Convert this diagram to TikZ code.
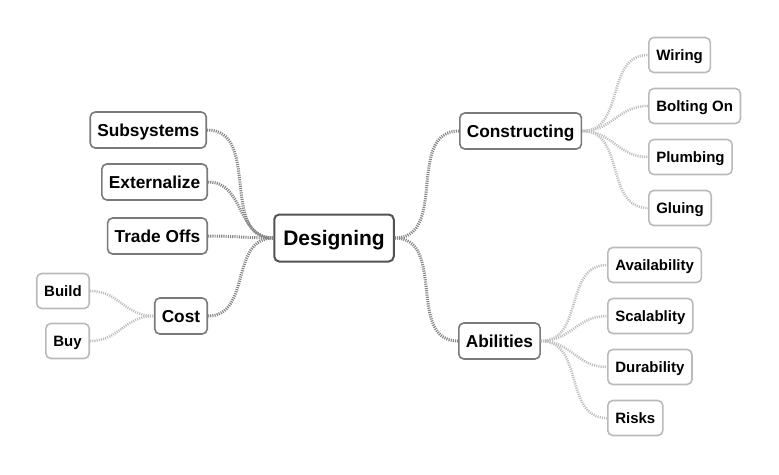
\documentclass[tikz,border=0pt]{standalone}
\usepackage{fontspec}
\setmainfont{Liberation Sans}
\begin{document}
\begin{tikzpicture}[x=1pt,y=-1pt,
  box/.style={draw, fill=white, rounded corners=5pt, inner xsep=7pt, inner ysep=0pt, text depth=0pt, font=\bfseries},
  centerbox/.style={box, draw=black!68, line width=2pt, minimum height=47pt, font=\fontsize{21}{24}\selectfont\bfseries, inner xsep=9pt},
  mainbox/.style={box, draw=black!52, line width=1.6pt, minimum height=36pt, font=\fontsize{17.3}{20}\selectfont\bfseries},
  subbox/.style={box, draw=black!27, line width=1.6pt, minimum height=35pt, font=\fontsize{15}{18}\selectfont\bfseries, inner xsep=7.5pt},
  mainlink/.style={draw=black!48, line width=3pt, dash pattern=on 1.1pt off 1.1pt},
  sublink/.style={draw=black!25, line width=2.6pt, dash pattern=on 1.1pt off 1.1pt},
  lnk/.style={out=0,in=180,looseness=1.1}
]
\useasboundingbox (0,0) rectangle (779,474);

\node[centerbox] (des) at (334,238) {Designing};

\node[mainbox, anchor=east] (sub) at (207,130) {Subsystems};
\node[mainbox, anchor=east] (ext) at (208,182) {Externalize};
\node[mainbox, anchor=east] (tra) at (208,236) {Trade Offs};
\node[mainbox, anchor=east] (cost) at (208,316) {Cost};
\node[subbox, anchor=east] (build) at (90,291) {Build};
\node[subbox, anchor=east] (buy) at (90,341) {Buy};

\node[mainbox, anchor=west] (con) at (459,131) {Constructing};
\node[subbox, anchor=west] (wir) at (648,55) {Wiring};
\node[subbox, anchor=west] (bol) at (648,106) {Bolting On};
\node[subbox, anchor=west] (plu) at (648,157) {Plumbing};
\node[subbox, anchor=west] (glu) at (648,208) {Gluing};

\node[mainbox, anchor=west] (abi) at (458,341) {Abilities};
\node[subbox, anchor=west] (ava) at (607,265) {Availability};
\node[subbox, anchor=west] (sca) at (607,316) {Scalablity};
\node[subbox, anchor=west] (dur) at (607,367) {Durability};
\node[subbox, anchor=west] (ris) at (607,418) {Risks};

\path[mainlink] (sub.east) to[lnk] (des.west);
\path[mainlink] (ext.east) to[lnk] (des.west);
\path[mainlink] (tra.east) to[lnk] (des.west);
\path[mainlink] (cost.east) to[lnk] (des.west);
\path[mainlink] (des.east) to[lnk] (con.west);
\path[mainlink] (des.east) to[lnk] (abi.west);
\path[sublink] (build.east) to[lnk] (cost.west);
\path[sublink] (buy.east) to[lnk] (cost.west);
\path[sublink] (con.east) to[lnk] (wir.west);
\path[sublink] (con.east) to[lnk] (bol.west);
\path[sublink] (con.east) to[lnk] (plu.west);
\path[sublink] (con.east) to[lnk] (glu.west);
\path[sublink] (abi.east) to[lnk] (ava.west);
\path[sublink] (abi.east) to[lnk] (sca.west);
\path[sublink] (abi.east) to[lnk] (dur.west);
\path[sublink] (abi.east) to[lnk] (ris.west);
\end{tikzpicture}
\end{document}
